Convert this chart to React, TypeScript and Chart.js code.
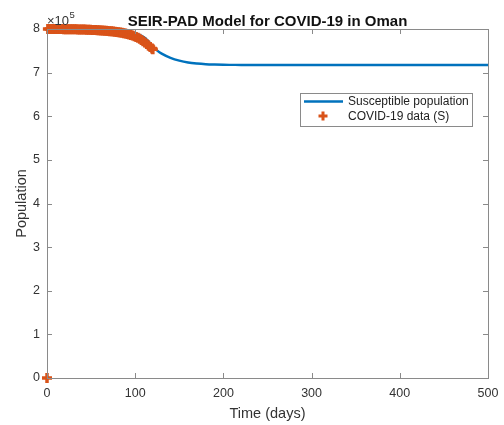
import { useEffect, useRef } from "react";
import { Chart, registerables } from "chart.js";

Chart.register(...registerables);

// ---- data ----
const TITLE = "SEIR-PAD Model for COVID-19 in Oman";
const X_LABEL = "Time (days)";
const Y_LABEL = "Population";
const MODEL_LABEL = "Susceptible population";
const DATA_LABEL = "COVID-19 data (S)";
const Y_EXPONENT = 5;

const xTickValues = [0, 100, 200, 300, 400, 500];
const yTickValues = [0, 100000, 200000, 300000, 400000, 500000, 600000, 700000, 800000];

// model curve (days, susceptible population)
const modelDays = [0, 20, 40, 60, 80, 90, 100, 105, 110, 115, 120, 125, 130, 140, 150, 160, 170, 180, 190, 200, 210, 220, 240, 260, 300, 400, 500];
const modelS = [800000, 799800, 799300, 798200, 796000, 794000, 790000, 786500, 781000, 772000, 760000, 750500, 743500, 734000, 727500, 723200, 720800, 719300, 718500, 718000, 717800, 717600, 717500, 717500, 717500, 717500, 717500];

// observed data (days, susceptible population)
const dataDays = [0, 1, 3, 5, 7, 9, 11, 13, 15, 17, 19, 21, 23, 25, 27, 29, 31, 33, 35, 37, 39, 41, 43, 45, 47, 49, 51, 53, 55, 57, 59, 61, 63, 65, 67, 69, 71, 73, 75, 77, 79, 81, 83, 85, 87, 89, 91, 93, 95, 97, 99, 101, 103, 105, 107, 109, 111, 113, 115, 117, 119, 120];
const dataS = [0, 800000, 800000, 800000, 799900, 799900, 799900, 799800, 799800, 799800, 799700, 799700, 799600, 799500, 799500, 799400, 799300, 799200, 799100, 799000, 798900, 798700, 798600, 798500, 798300, 798100, 797900, 797700, 797500, 797300, 797000, 796700, 796400, 796100, 795800, 795400, 795000, 794600, 794100, 793600, 793100, 792500, 791900, 791200, 790400, 789500, 788500, 787400, 786200, 784900, 783400, 781700, 779700, 777400, 774800, 772000, 768900, 765600, 762200, 758800, 755200, 753500];

const BLUE = "#0072BD";
const ORANGE = "#D95319";
const AXIS = "#8a8a8a";
const TEXT = "#333333";
const FONT = "'Liberation Sans', Arial, sans-serif";

const decorPlugin = {
  id: "decor",
  afterDraw(chart: any) {
    const ctx = chart.ctx;
    const { left, right, top, bottom } = chart.chartArea;
    const xs = chart.scales.x;
    const ys = chart.scales.y;
    ctx.save();
    // box
    ctx.strokeStyle = AXIS;
    ctx.lineWidth = 1;
    ctx.strokeRect(Math.round(left) + 0.5, Math.round(top) + 0.5, Math.round(right - left), Math.round(bottom - top));
    // inward ticks
    const tl = 5;
    ctx.beginPath();
    xs.ticks.forEach((t: any) => {
      const px = Math.round(xs.getPixelForValue(t.value)) + 0.5;
      ctx.moveTo(px, bottom);
      ctx.lineTo(px, bottom - tl);
      ctx.moveTo(px, top);
      ctx.lineTo(px, top + tl);
    });
    ys.ticks.forEach((t: any) => {
      const py = Math.round(ys.getPixelForValue(t.value)) + 0.5;
      ctx.moveTo(left, py);
      ctx.lineTo(left + tl, py);
      ctx.moveTo(right, py);
      ctx.lineTo(right - tl, py);
    });
    ctx.stroke();

    // title
    ctx.fillStyle = "#111";
    ctx.font = `bold 15px ${FONT}`;
    ctx.textAlign = "center";
    ctx.textBaseline = "alphabetic";
    ctx.fillText(TITLE, (left + right) / 2, 26);

    // exponent
    ctx.fillStyle = TEXT;
    ctx.textAlign = "left";
    ctx.font = `13px ${FONT}`;
    const base = "\u00d710";
    ctx.fillText(base, left, 25);
    const w = ctx.measureText(base).width;
    ctx.font = `9.5px ${FONT}`;
    ctx.fillText(String(Y_EXPONENT), left + w + 0.5, 18);

    // legend
    const lx = 300.5, ly = 93.5, lw = 172, lh = 33;
    ctx.fillStyle = "#fff";
    ctx.fillRect(lx, ly, lw, lh);
    ctx.strokeStyle = AXIS;
    ctx.lineWidth = 1;
    ctx.strokeRect(lx, ly, lw, lh);
    const ds = chart.data.datasets;
    const modelDs = ds.find((d: any) => d.label === MODEL_LABEL);
    const dataDs = ds.find((d: any) => d.label === DATA_LABEL);
    ctx.strokeStyle = BLUE;
    ctx.lineWidth = 2.4;
    ctx.beginPath();
    ctx.moveTo(304, 101.5);
    ctx.lineTo(343, 101.5);
    ctx.stroke();
    ctx.strokeStyle = ORANGE;
    ctx.lineWidth = 3;
    ctx.beginPath();
    ctx.moveTo(318.5, 116);
    ctx.lineTo(327.5, 116);
    ctx.moveTo(323, 111.5);
    ctx.lineTo(323, 120.5);
    ctx.stroke();
    ctx.fillStyle = "#222";
    ctx.font = `12px ${FONT}`;
    ctx.textBaseline = "middle";
    ctx.fillText(modelDs.label, 348, 101.5);
    ctx.fillText(dataDs.label, 348, 116.5);
    ctx.restore();
  },
};

export default function App() {
  const ref = useRef<HTMLCanvasElement | null>(null);
  useEffect(() => {
    document.body.style.margin = "0";
    const canvas = ref.current!;
    const chart = new Chart(canvas, {
      type: "scatter",
      data: {
        datasets: [
          {
            label: DATA_LABEL,
            data: dataDays.map((d, i) => ({ x: d, y: dataS[i] })),
            showLine: false,
            pointStyle: "cross",
            pointRadius: 5,
            borderWidth: 3.5,
            borderColor: ORANGE,
            backgroundColor: ORANGE,
            clip: false,
          } as any,
          {
            label: MODEL_LABEL,
            data: modelDays.map((d, i) => ({ x: d, y: modelS[i] })),
            showLine: true,
            pointRadius: 0,
            borderWidth: 2.4,
            borderColor: BLUE,
            backgroundColor: BLUE,
            cubicInterpolationMode: "monotone",
          } as any,
        ],
      },
      plugins: [decorPlugin],
      options: {
        animation: false,
        responsive: false,
        layout: { padding: { top: 29, right: 0, left: 0, bottom: 0 } },
        plugins: { legend: { display: false }, title: { display: false }, tooltip: { enabled: false } },
        scales: {
          x: {
            type: "linear",
            min: 0,
            max: 500,
            afterBuildTicks: (s: any) => {
              s.ticks = xTickValues.map((v) => ({ value: v }));
            },
            afterFit: (s: any) => {
              s.height = 47;
              s.paddingRight = 16;
              s.paddingLeft = 0;
            },
            grid: { display: false, drawTicks: false, tickLength: 0 },
            border: { display: false },
            ticks: { color: TEXT, font: { family: FONT, size: 12.5 }, padding: 8, maxRotation: 0, autoSkip: false },
            title: { display: true, text: X_LABEL, color: TEXT, font: { family: FONT, size: 14.5 }, padding: { top: 0, bottom: 2 } },
          },
          y: {
            type: "linear",
            min: 0,
            max: 800000,
            afterBuildTicks: (s: any) => {
              s.ticks = yTickValues.map((v) => ({ value: v }));
            },
            afterFit: (s: any) => {
              s.width = 47;
              s.paddingTop = 0;
              s.paddingBottom = 0;
            },
            grid: { display: false, drawTicks: false, tickLength: 0 },
            border: { display: false },
            ticks: {
              color: TEXT,
              font: { family: FONT, size: 12.5 },
              padding: 7,
              autoSkip: false,
              callback: (v: any) => String(Number(v) / Math.pow(10, Y_EXPONENT)),
            },
            title: { display: true, text: Y_LABEL, color: TEXT, font: { family: FONT, size: 14.5 }, padding: { top: 13, bottom: 0 } },
          },
        },
      },
    });
    return () => chart.destroy();
  }, []);
  return <canvas ref={ref} width={504} height={425} style={{ display: "block" }} />;
}
